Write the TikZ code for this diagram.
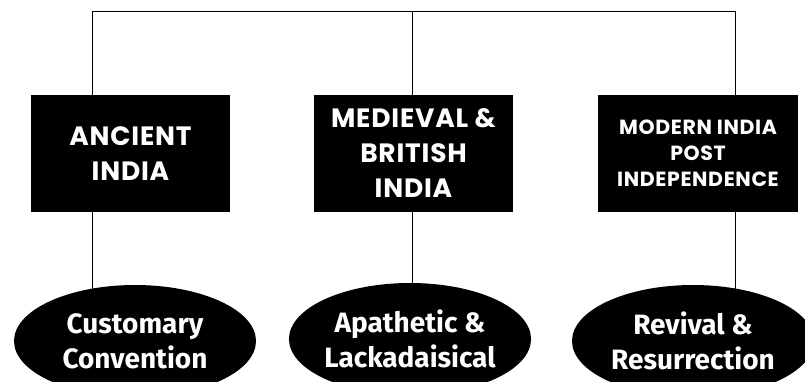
\documentclass[tikz,border=0pt]{standalone}
\usepackage{fontspec}
\setmainfont{Poppins}
\newfontfamily\erafont[LetterSpace=3]{Poppins}
\newfontfamily\ovalfont{Fira Sans}
\usetikzlibrary{positioning,calc,shapes.geometric,backgrounds}

\begin{document}
\begin{tikzpicture}[x=1pt, y=-1pt, line width=2.4pt,
  era/.style={draw, fill=black, text=white, minimum width=197pt, minimum height=115pt, inner sep=0pt, align=center, font=\erafont\bfseries\fontsize{26.5}{35}\selectfont},
  trait/.style={ellipse, fill=black, text=white, minimum width=242pt, minimum height=112pt, inner sep=0pt, align=center, font=\ovalfont\bfseries\fontsize{28}{35}\selectfont}]
  \useasboundingbox (0,0) rectangle (805,381);
  \node[era](anc) at (130.5,153.5){ANCIENT\\ INDIA};
  \node[era](med) at (413.5,153.5){MEDIEVAL \&\\ BRITISH\\ INDIA};
  \node[era, font=\erafont\bfseries\fontsize{20.5}{26}\selectfont](mod) at (698,153.5){MODERN INDIA\\ POST\\ INDEPENDENCE};
  \node[trait](cus) at (135,341){Customary\\ Convention};
  \node[trait](apa) at (410,339){Apathetic \&\\ Lackadaisical};
  \node[trait](rev) at (693,341){Revival \&\\ Resurrection};
  \coordinate (t1) at (92,11); \coordinate (t2) at (412,11); \coordinate (t3) at (735,11);
  \begin{scope}[on background layer]
    \draw (t1 |- anc.north) -- (t1) -- (t3) -- (t3 |- mod.north);
    \draw (t2) -- (t2 |- med.north);
    \draw (t1 |- anc.south) -- (t1 |- cus.center);
    \draw (t2 |- med.south) -- (t2 |- apa.center);
    \draw (t3 |- mod.south) -- (t3 |- rev.center);
  \end{scope}
\end{tikzpicture}
\end{document}
